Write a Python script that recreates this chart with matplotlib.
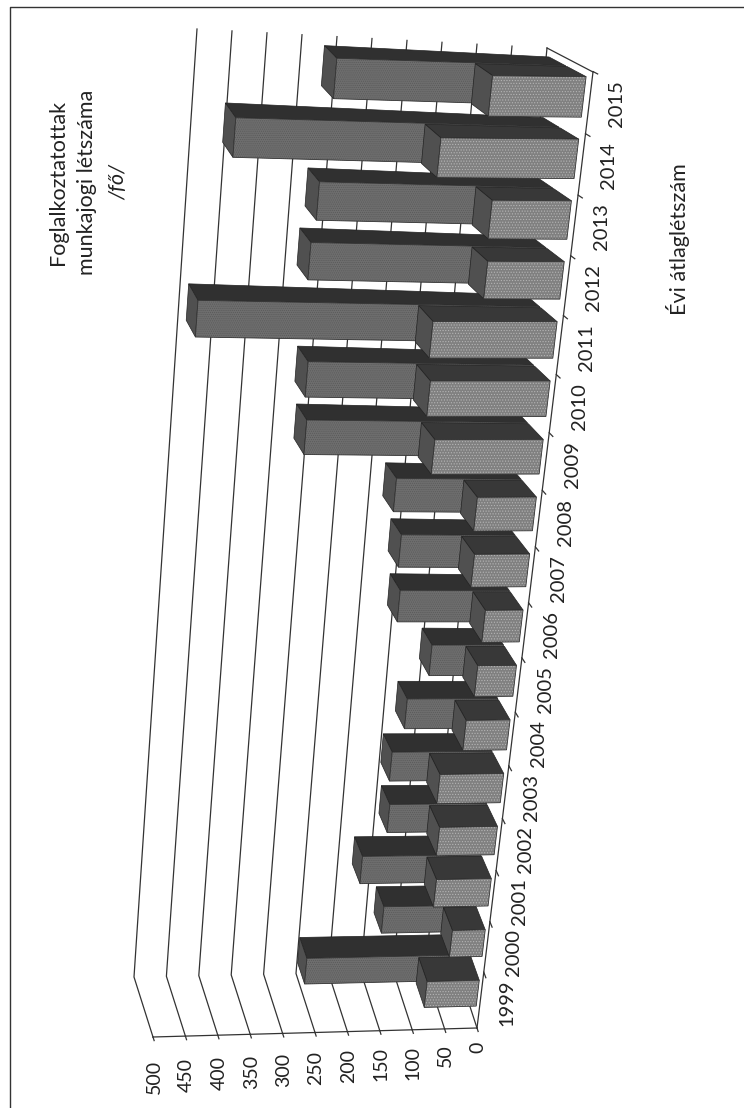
import matplotlib
matplotlib.use("Agg")
import matplotlib.pyplot as plt
import numpy as np
from matplotlib.patches import Polygon

plt.rcParams["font.family"] = ["Lato", "DejaVu Sans"]
plt.rcParams["hatch.linewidth"] = 0.5

years = [str(y) for y in range(1999, 2016)]
back_values = [251, 140, 180, 146, 150, 135, 106, 161, 167, 182, 320, 325, 490, 335, 330, 455, 320]
front_values = [80, 50, 83, 87, 95, 65, 57, 55, 80, 85, 155, 170, 175, 107, 110, 190, 128]
value_ticks = [0, 50, 100, 150, 200, 250, 300, 350, 400, 450, 500]
ymax = 500

# picture corners of the 3D box, the chart sits on its side on the scanned page
front_floor = np.array([[477, 1028], [593, 72]], float)
back_floor = np.array([[458, 970], [547, 48]], float)
front_top = np.array([[153, 1037], [225, 70]], float)
back_top = np.array([[134, 977], [197, 29]], float)


def warp(u):
    # years get wider towards 2015 because of the perspective
    return 0.88 * u + 0.12 * u**2


def project(u, v, d):
    u = warp(u)
    t = v / ymax
    floor_f = front_floor[0] * (1 - u) + front_floor[1] * u
    floor_b = back_floor[0] * (1 - u) + back_floor[1] * u
    top_f = front_top[0] * (1 - u) + front_top[1] * u
    top_b = back_top[0] * (1 - u) + back_top[1] * u
    front = floor_f * (1 - t) + top_f * t
    back = floor_b * (1 - t) + top_b * t
    return front * (1 - d) + back * d


def draw_bar(ax, i, value, d0, d1, face, side, end, hatch, hatch_color):
    n = len(years)
    frac = 0.52 + 0.13 * i / (n - 1)
    u0 = (i + 0.5 - frac / 2) / n + 0.003
    u1 = (i + 0.5 + frac / 2) / n + 0.003
    front = [project(u0, 0, d0), project(u1, 0, d0), project(u1, value, d0), project(u0, value, d0)]
    upper = [project(u1, 0, d0), project(u1, 0, d1), project(u1, value, d1), project(u1, value, d0)]
    cap = [project(u0, value, d0), project(u1, value, d0), project(u1, value, d1), project(u0, value, d1)]
    ax.add_patch(Polygon(upper, closed=True, facecolor=side, edgecolor="#222222", lw=0.5, zorder=3))
    ax.add_patch(Polygon(cap, closed=True, facecolor=end, edgecolor="#222222", lw=0.5, zorder=3))
    ax.add_patch(Polygon(front, closed=True, facecolor=face, edgecolor=hatch_color, hatch=hatch, lw=0, zorder=3))
    ax.add_patch(Polygon(front, closed=True, fill=False, edgecolor="#333333", lw=0.6, zorder=3))


fig = plt.figure(figsize=(7.44, 11.08), dpi=100)
ax = fig.add_axes([0, 0, 1, 1])
ax.set_xlim(0, 744)
ax.set_ylim(1108, 0)
ax.axis("off")

# page border, only left and top are on the scan
ax.plot([10, 10, 744], [1108, 7, 7], color="#333333", lw=1.0)

# gridlines along the left wall and the back wall
n = len(years)
for k, v in enumerate(value_ticks):
    pts = np.array([project(0, v, 0), project(0, v, 1), project(1, v, 1)])
    ax.plot(pts[:, 0], pts[:, 1], color="#333333", lw=0.9, zorder=1)
    tick = np.array([project(0, v, 0), project(0, v, -0.06)])
    ax.plot(tick[:, 0], tick[:, 1], color="#333333", lw=0.9, zorder=1)
    pos = project(0, v, 0)
    ax.text(pos[0] + 1, 1042 + 1.8 * k, str(v), rotation=90, ha="center", va="top", fontsize=14, color="#222222")

# value axis and floor edges
for a, b in [((0, 0, 0), (0, ymax, 0)), ((0, 0, 0), (1, 0, 0)), ((1, 0, 0), (1, 0, 1))]:
    pts = np.array([project(*a), project(*b)])
    ax.plot(pts[:, 0], pts[:, 1], color="#333333", lw=0.9, zorder=4)

for i, value in enumerate(back_values):
    draw_bar(ax, i, value, 0.58, 0.94, "#6e6e6e", "#303030", "#505050", "........", "#5a5a5a")

for i, value in enumerate(front_values):
    draw_bar(ax, i, value, 0.13, 0.55, "#808080", "#383838", "#505050", "......", "#b4b4b4")

# year ticks and labels along the front floor edge
for i, label in enumerate(years):
    u = (i + 1) / n + 0.007 * (1 - i / n)
    tick = np.array([project(u, 0, 0), project(u, 0, -0.1)])
    ax.plot(tick[:, 0], tick[:, 1], color="#333333", lw=0.9, zorder=4)
    pos = project((i + 0.5) / n, 0, 0)
    ax.text(pos[0] + 27, pos[1], label, rotation=90, ha="center", va="center", fontsize=14.5, color="#222222")

title_x = [58, 87]
for x, line in zip(title_x, ["Foglalkoztatottak", "munkajogi létszáma"]):
    ax.text(x, 182, line, rotation=90, ha="center", va="center", fontsize=15.5, color="#222222")
ax.text(118, 182, "/fő/", rotation=90, ha="center", va="center", fontsize=15.5, style="italic", color="#222222")
ax.text(678, 239, "Évi átlaglétszám", rotation=90, ha="center", va="center", fontsize=15.5, color="#222222")

fig.savefig("out.png", dpi=100)
